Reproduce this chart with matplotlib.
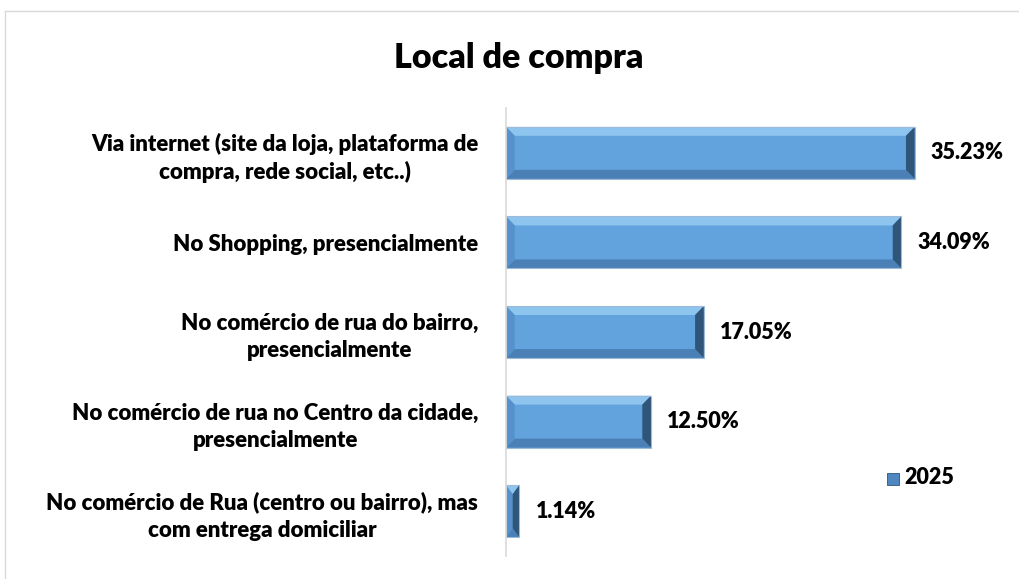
import matplotlib.pyplot as plt
from matplotlib.patches import Polygon, Rectangle

categories = [
    'Via internet (site da loja, plataforma de\ncompra, rede social, etc..)',
    'No Shopping, presencialmente',
    'No comércio de rua do bairro,\npresencialmente',
    'No comércio de rua no Centro da cidade,\npresencialmente',
    'No comércio de Rua (centro ou bairro), mas\ncom entrega domiciliar',
]
values = [35.23, 34.09, 17.05, 12.50, 1.14]
series_name = '2025'

plt.rcParams['font.family'] = ['Lato', 'DejaVu Sans']

fig = plt.figure(figsize=(10.19, 5.79), dpi=100)
ax = fig.add_axes([0.4966, 0.0397, 0.4553, 0.7737])

face = '#62A3DE'
bar_h = 0.58
ypos = list(range(len(values)))
bars = ax.barh(ypos, values, height=bar_h, color=face, edgecolor='none')

ax.set_xlim(0, 40)
ax.set_ylim(4.5, -0.5)

# bevel effect on each bar
for b, v in zip(bars, values):
    x0 = b.get_x()
    w = b.get_width()
    yt = b.get_y()
    yb = yt + b.get_height()
    bx = min(0.75, w / 2)
    by = 0.1
    ax.add_patch(Polygon([(x0, yt), (x0 + w, yt), (x0 + w - bx, yt + by), (x0 + bx, yt + by)],
                         closed=True, color='#8EC5EF', lw=0))
    ax.add_patch(Polygon([(x0, yb), (x0 + w, yb), (x0 + w - bx, yb - by), (x0 + bx, yb - by)],
                         closed=True, color='#4A80B6', lw=0))
    ax.add_patch(Polygon([(x0, yt), (x0 + bx, yt + by), (x0 + bx, yb - by), (x0, yb)],
                         closed=True, color='#5592CC', lw=0))
    ax.add_patch(Polygon([(x0 + w, yt), (x0 + w - bx, yt + by), (x0 + w - bx, yb - by), (x0 + w, yb)],
                         closed=True, color='#2F5579', lw=0))
    ax.add_patch(Rectangle((x0, yt), w, b.get_height(), fill=False, ec='#9DBBD8', lw=0.8))
    ax.text(x0 + w + 1.4, b.get_y() + b.get_height() / 2, f'{v:.2f}%',
            va='center', ha='left', fontsize=15.5, fontweight='heavy', color='black')

ax.set_yticks(ypos)
ax.set_yticklabels(categories, fontsize=16, fontweight='heavy')
for lbl in ax.get_yticklabels():
    lbl.set_multialignment('center')
    lbl.set_linespacing(1.35)
ax.tick_params(axis='y', length=0, pad=20)
ax.set_xticks([])
for s in ['top', 'right', 'bottom']:
    ax.spines[s].set_visible(False)
ax.spines['left'].set_color('#D9D9D9')
ax.spines['left'].set_linewidth(1.2)

fig.text(0.509, 0.9, 'Local de compra', ha='center', va='center',
         fontsize=24.5, fontweight='heavy')

# legend
fig.patches.append(Rectangle((887 / 1019, 1 - 485 / 579), 12 / 1019, 12 / 579,
                             transform=fig.transFigure, fc='#4F88C0', ec='#2F5579', lw=0.6))
fig.text(904 / 1019, 1 - 478 / 579, series_name, ha='left', va='center',
         fontsize=15.5, fontweight='heavy')

# chart area border
fig.add_artist(plt.Line2D([4.5 / 1019, 4.5 / 1019], [0, 1 - 10.5 / 579],
                          transform=fig.transFigure, color='#D9D9D9', lw=1))
fig.add_artist(plt.Line2D([4.5 / 1019, 1], [1 - 10.5 / 579, 1 - 10.5 / 579],
                          transform=fig.transFigure, color='#D9D9D9', lw=1))

fig.savefig('out.png', dpi=100)
